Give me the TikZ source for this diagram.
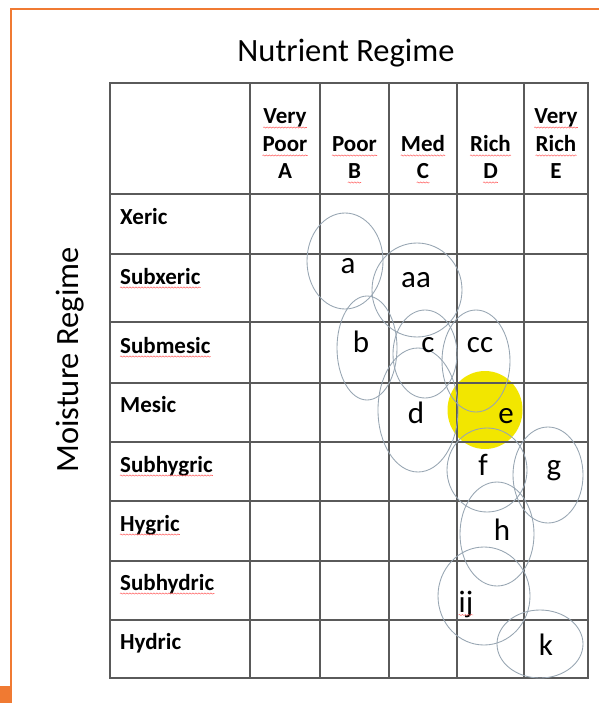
\documentclass[tikz,border=0pt]{standalone}
\usepackage{fontspec}
\setmainfont{Carlito}
\usetikzlibrary{decorations.pathmorphing}
\definecolor{frameorange}{HTML}{F07A32}
\definecolor{gridgray}{HTML}{5A5A5A}
\definecolor{ringgray}{HTML}{97A5B2}
\definecolor{hilite}{HTML}{F2E600}
\tikzset{
  gridline/.style={draw=gridgray, line width=1.6pt},
  ring/.style={draw=ringgray, line width=0.85pt},
  hdr/.style={font=\fontsize{23}{23}\selectfont\bfseries, inner sep=0pt, anchor=base},
  rowlab/.style={font=\fontsize{23}{23}\selectfont\bfseries, inner sep=0pt, anchor=base west},
  zone/.style={font=\fontsize{31}{31}\selectfont, inner sep=0pt, anchor=base},
  axislab/.style={font=\fontsize{32.5}{32.5}\selectfont, inner sep=0pt},
  squig/.style={draw=red!60!white, line width=0.55pt, decorate,
    decoration={snake, amplitude=0.6pt, segment length=3pt}}
}
\newcommand{\squigunder}[1]{%
  \draw[squig] ([yshift=-3.5pt]#1.base west) -- ([yshift=-3.5pt]#1.base east);}
\begin{document}
\begin{tikzpicture}[x=1pt, y=-1pt]
\useasboundingbox (0,0) rectangle (599,703);
\fill[white] (0,0) rectangle (599,703);

% orange page frame
\draw[frameorange, line width=2pt] (11,686) -- (11,9) -- (599,9);
\fill[frameorange] (0,686) rectangle (12,703);

% axis titles
\node[axislab] (ntitle) at (346,53) {Nutrient Regime};
\node[axislab, rotate=90] (mtitle) at (70,360) {Moisture Regime};

% highlighted zone e (under the grid)
\fill[hilite] (485,410) ellipse [x radius=37.5, y radius=39];

% table grid
\draw[gridline] (110,83) rectangle (588,678);
\foreach \x in {250,320,389,457,524}
  \draw[gridline] (\x,83) -- (\x,678);
\foreach \y in {194,254,322,383,442,501,561,620}
  \draw[gridline] (110,\y) -- (588,\y);

% column headers
\node[hdr] (vA) at (285,124) {Very};
\node[hdr] (pA) at (285,152) {Poor};
\node[hdr] (lA) at (285,179) {A};
\node[hdr] (pB) at (354.5,152) {Poor};
\node[hdr] (lB) at (354.5,179) {B};
\node[hdr] (mC) at (423,152) {Med};
\node[hdr] (lC) at (423,179) {C};
\node[hdr] (rD) at (490.5,152) {Rich};
\node[hdr] (lD) at (490.5,179) {D};
\node[hdr] (vE) at (556,124) {Very};
\node[hdr] (rE) at (556,152) {Rich};
\node[hdr] (lE) at (556,179) {E};
\squigunder{vA} \squigunder{pA} \squigunder{pB} \squigunder{lB}
\squigunder{mC} \squigunder{lC} \squigunder{rD} \squigunder{lD}
\squigunder{vE} \squigunder{rE}

% row headers
\node[rowlab] (r1) at (120,224) {Xeric};
\node[rowlab] (r2) at (120,284) {Subxeric};
\node[rowlab] (r3) at (120,353) {Submesic};
\node[rowlab] (r4) at (120,412) {Mesic};
\node[rowlab] (r5) at (120,472) {Subhygric};
\node[rowlab] (r6) at (120,531) {Hygric};
\node[rowlab] (r7) at (120,590) {Subhydric};
\node[rowlab] (r8) at (120,649) {Hydric};
\squigunder{r2} \squigunder{r3} \squigunder{r5} \squigunder{r6} \squigunder{r7}

% site series envelopes
\draw[ring] (345,261) ellipse [x radius=38, y radius=48];
\draw[ring] (417,290) ellipse [x radius=45, y radius=47];
\draw[ring] (367,348) ellipse [x radius=30, y radius=52];
\draw[ring] (425,354) ellipse [x radius=32, y radius=44];
\draw[ring] (476,361) ellipse [x radius=34, y radius=51];
\draw[ring] (418,410) ellipse [x radius=40, y radius=62];
\draw[ring] (487,470) ellipse [x radius=40, y radius=42];
\draw[ring] (548,475) ellipse [x radius=35, y radius=48];
\draw[ring] (497,534) ellipse [x radius=37, y radius=52];
\draw[ring] (484,596) ellipse [x radius=46, y radius=49];
\draw[ring] (540,644) ellipse [x radius=43, y radius=34];

% zone labels
\node[zone] (za) at (348,273) {a};
\node[zone] (zaa) at (416,287) {aa};
\node[zone] (zb) at (361,352) {b};
\node[zone] (zc) at (428,352) {c};
\node[zone] (zcc) at (480,352) {cc};
\node[zone] (zd) at (416,423) {d};
\node[zone] (ze) at (506,423) {e};
\node[zone] (zf) at (483,475) {f};
\node[zone] (zg) at (554,475) {g};
\node[zone] (zh) at (502,540) {h};
\node[zone] (zij) at (466,612) {ij};
\node[zone] (zk) at (546,655) {k};
\draw[squig, line width=0.4pt] ([yshift=-3pt]zij.base west) -- ([yshift=-3pt]zij.base east);
\end{tikzpicture}
\end{document}
